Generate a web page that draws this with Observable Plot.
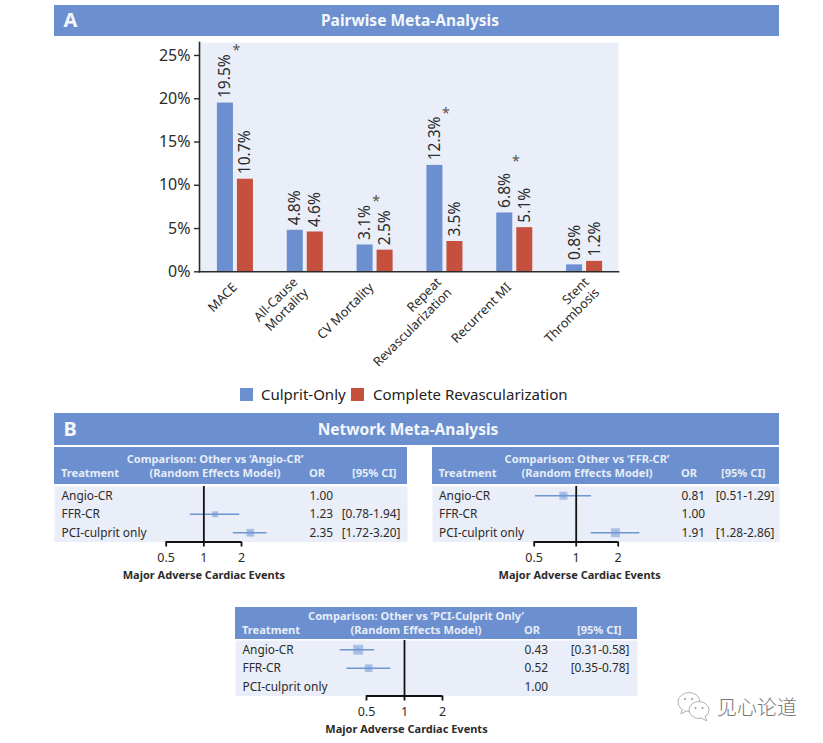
<!DOCTYPE html>
<html>
<head>
<meta charset="utf-8">
<script src="https://cdn.jsdelivr.net/npm/d3@7"></script>
<script src="https://cdn.jsdelivr.net/npm/@observablehq/plot@0.6"></script>
<style>
html,body{margin:0;padding:0;background:#fff;}
#page{position:relative;width:823px;height:743px;overflow:hidden;font-family:"Noto Sans",sans-serif;}
</style>
</head>
<body>
<div id="page"></div>
<script>
// ---- Panel A data
const categories = ["MACE","All-Cause\nMortality","CV Mortality","Repeat\nRevascularization","Recurrent MI","Stent\nThrombosis"];
const culpritOnly = [19.5,4.8,3.1,12.3,6.8,0.8];
const completeRevasc = [10.7,4.6,2.5,3.5,5.1,1.2];
const seriesNames = ["Culprit-Only","Complete Revascularization"];
const significant = ["MACE","CV Mortality","Repeat\nRevascularization","Recurrent MI"];
const starLevels = [25.6,8.1,18.3,12.7];
const yTicks = [0,5,10,15,20,25];

// ---- Panel B data
const treatments = ["Angio-CR","FFR-CR","PCI-culprit only"];
const xTicks = [0.5,1,2];
const vsAngioOR = [1.00,1.23,2.35];
const vsAngioLo = [null,0.78,1.72];
const vsAngioHi = [null,1.94,3.20];
const vsAngioWeight = [null,18,30];
const vsFfrOR = [0.81,1.00,1.91];
const vsFfrLo = [0.51,null,1.28];
const vsFfrHi = [1.29,null,2.86];
const vsFfrWeight = [32,null,40];
const vsPciOR = [0.43,0.52,1.00];
const vsPciLo = [0.31,0.35,null];
const vsPciHi = [0.58,0.78,null];
const vsPciWeight = [49,30,null];

const BLUE="#6b8fcf", RED="#c5503d", PANEL="#e9eef8", INK="#2b2b2b";
const page=document.getElementById("page");
const FONT='"Noto Sans",sans-serif';

function add(el,css,html){const d=document.createElement(el);d.style.cssText=css;if(html!=null)d.innerHTML=html;page.appendChild(d);return d;}

// ---- Panel A chart
const barRows=categories.flatMap((c,i)=>[
  {category:c,series:seriesNames[0],value:culpritOnly[i]},
  {category:c,series:seriesNames[1],value:completeRevasc[i]}]);
const starRows=significant.map((c,i)=>({category:c,level:starLevels[i]}));
const labelNudge=[0,-4,-3,0,-5,8];
const categoryAxes=categories.map((c,i)=>Plot.axisFx({ticks:[c],anchor:"bottom",tickRotate:-45,tickSize:0,tickPadding:13,dx:labelNudge[i],fontSize:12.8,fill:INK,label:null,lineHeight:1.15}));

const chartA=Plot.plot({
  width:823,height:390,marginLeft:199,marginRight:205,marginTop:42,marginBottom:118.7,
  style:{fontFamily:FONT,background:"transparent",overflow:"visible"},
  fx:{domain:categories,padding:0,round:false,label:null,axis:null},
  x:{domain:seriesNames,paddingInner:0.2,paddingOuter:0.845,align:0.53,round:false,axis:null,label:null},
  y:{domain:[0,26.5],label:null},
  color:{domain:seriesNames,range:[BLUE,RED]},
  marks:[
    Plot.frame({fill:PANEL,stroke:null,facet:"super"}),
    Plot.barY(barRows,{fx:"category",x:"series",y:"value",fill:"series"}),
    Plot.text(barRows,{fx:"category",x:"series",y:"value",text:d=>d.value.toFixed(1)+"%",rotate:-90,textAnchor:"start",dy:-5,fontSize:15.6,fill:INK}),
    Plot.text(starRows,{fx:"category",y:"level",dx:2,text:()=>"*",fontSize:14,fill:"#555"}),
    Plot.frame({anchor:"left",stroke:INK,strokeWidth:1.6,facet:"super"}),
    Plot.frame({anchor:"bottom",stroke:INK,strokeWidth:1.6,facet:"super"}),
    Plot.axisY({ticks:yTicks,tickFormat:d=>d+"%",tickSize:5,tickPadding:4,fontSize:16,stroke:INK,fill:INK,strokeWidth:1.4,label:null}),
    ...categoryAxes
  ]});
chartA.style.cssText+=";position:absolute;left:0;top:0;";
page.appendChild(chartA);

// ---- Banners
add("div","position:absolute;left:54px;top:5px;width:725px;height:31px;background:"+BLUE);
add("div","position:absolute;left:54px;top:413px;width:725px;height:32px;background:"+BLUE);
const bannerText="position:absolute;white-space:nowrap;color:#f4f7fc;font-weight:700;";
add("div",bannerText+"left:63.5px;top:8px;font-size:20px;line-height:24px;","A");
add("div",bannerText+"left:54px;width:712px;text-align:center;top:8px;font-size:15.5px;line-height:24px;","Pairwise Meta-Analysis");
add("div",bannerText+"left:63.5px;top:416.5px;font-size:20px;line-height:24px;","B");
add("div",bannerText+"left:54px;width:708px;text-align:center;top:416.5px;font-size:15.5px;line-height:24px;","Network Meta-Analysis");

// ---- Legend
add("div","position:absolute;left:240px;top:388px;width:13px;height:13px;background:"+BLUE);
add("div","position:absolute;left:351px;top:388px;width:13px;height:13px;background:"+RED);
const legendText="position:absolute;white-space:nowrap;color:#222;font-size:15px;line-height:20px;top:383.5px;";
add("div",legendText+"left:261px;",seriesNames[0]);
add("div",legendText+"left:373px;",seriesNames[1]);

// ---- Forest tables
function forest(t){
  const W=t.right-t.left, rowH=18.5, bodyH=rowH*3, below=44;
  const hdr=add("div",`position:absolute;left:${t.left}px;top:${t.top}px;width:${W}px;height:${t.bodyTop-t.top-1.5}px;background:${BLUE};`);
  const span=(txt,css)=>{const s=document.createElement("span");s.style.cssText="position:absolute;white-space:nowrap;color:#e6edf8;font-weight:700;font-size:11.1px;line-height:13px;"+css;s.textContent=txt;hdr.appendChild(s);};
  span(t.title,`left:${t.titleX-t.left-150}px;width:300px;text-align:center;top:${t.line1}px;`);
  span("(Random Effects Model)",`left:${t.titleX-t.left-150}px;width:300px;text-align:center;top:${t.line2}px;`);
  span("Treatment",`left:${t.pad}px;top:${t.line2}px;`);
  span("OR",`left:${t.orX-t.left}px;top:${t.line2}px;`);
  span("[95% CI]",`left:${t.ciX-t.left}px;top:${t.line2}px;`);

  const rows=treatments.map((name,i)=>({name,or:t.or[i],lo:t.lo[i],hi:t.hi[i],w:t.w[i]}));
  const est=rows.filter(d=>d.lo!=null);
  const fs=11.9;
  const p=Plot.plot({
    width:W,height:bodyH+below,marginLeft:0,marginRight:0,marginTop:0,marginBottom:below,
    style:{fontFamily:FONT,background:"transparent",overflow:"visible"},
    x:{type:"log",domain:[0.5,2],range:[t.x05-t.left,t.x2-t.left],axis:null,label:null},
    y:{type:"band",domain:treatments,padding:0,round:false,axis:null,label:null},
    r:{domain:[0,100],range:[0,8]},
    marks:[
      Plot.frame({fill:PANEL,stroke:null}),
      Plot.dot(est,{x:"or",y:"name",r:"w",symbol:"square",fill:"#a9c0e6",stroke:null}),
      Plot.ruleY(est,{y:"name",x1:"lo",x2:"hi",stroke:"#6f95d2",strokeWidth:1.5}),
      Plot.dot(est,{x:"or",y:"name",r:1.5,symbol:"square",fill:"#7f9fd6",stroke:null}),
      Plot.ruleX([1],{stroke:"#111",strokeWidth:1.8}),
      Plot.ruleY([treatments[2]],{x1:()=>xTicks[0],x2:()=>xTicks[2],dy:rowH/2,stroke:"#111",strokeWidth:1.8}),
      Plot.axisX({ticks:xTicks,tickFormat:d=>String(d),tickSize:5,tickPadding:6,fontSize:12.5,stroke:"#111",strokeWidth:1.8,fill:INK,label:null}),
      Plot.text(["Major Adverse Cardiac Events"],{x:()=>1,frameAnchor:"bottom",dx:t.capDx,dy:37,text:d=>d,fontSize:11,fontWeight:700,fill:INK}),
      Plot.text(rows,{y:"name",text:"name",frameAnchor:"left",dx:t.pad,textAnchor:"start",fontSize:fs,fill:INK}),
      Plot.text(rows,{y:"name",text:d=>d.or.toFixed(2),frameAnchor:"left",dx:t.orX-t.left,textAnchor:"start",fontSize:fs,fill:INK}),
      Plot.text(est,{y:"name",text:d=>`[${d.lo.toFixed(2)}-${d.hi.toFixed(2)}]`,frameAnchor:"right",dx:-t.ciPad,textAnchor:"end",fontSize:fs,fill:INK})
    ]});
  p.style.cssText+=`;position:absolute;left:${t.left}px;top:${t.bodyTop}px;`;
  page.appendChild(p);
}
forest({left:54,right:407,top:447,bodyTop:485.5,pad:7,line1:4.5,line2:19,title:"Comparison: Other vs ‘Angio-CR’",titleX:215,orX:309,ciX:352,ciPad:7,capDx:0,x05:165.7,x2:241,or:vsAngioOR,lo:vsAngioLo,hi:vsAngioHi,w:vsAngioWeight});
forest({left:432,right:779,top:447,bodyTop:485.5,pad:6.5,line1:4.5,line2:19,title:"Comparison: Other vs ‘FFR-CR’",titleX:587,orX:681,ciX:721,ciPad:5,capDx:3.5,x05:533.7,x2:617.7,or:vsFfrOR,lo:vsFfrLo,hi:vsFfrHi,w:vsFfrWeight});
forest({left:235,right:637,top:607,bodyTop:640,pad:7,line1:1.5,line2:16,title:"Comparison: Other vs ‘PCI-Culprit Only’",titleX:416,orX:524,ciX:577,ciPad:8,capDx:2,x05:366,x2:442,or:vsPciOR,lo:vsPciLo,hi:vsPciHi,w:vsPciWeight});

// ---- Watermark
add("div","position:absolute;left:676px;top:690px;width:36px;height:34px;",
 `<svg width="36" height="34" viewBox="0 0 36 34" fill="#fff" stroke="#aaa" stroke-width="0.9">
  <ellipse cx="13" cy="12" rx="11" ry="9.5"/><path d="M6 19 l-1 5 l5 -3"/>
  <ellipse cx="23" cy="20" rx="10" ry="8.5"/><path d="M29 26 l2 5 l-6 -3"/>
  <circle cx="9" cy="9" r="1" fill="#999" stroke="none"/><circle cx="16" cy="9" r="1" fill="#999" stroke="none"/>
  <circle cx="19.5" cy="18" r="1" fill="#999" stroke="none"/><circle cx="26.5" cy="18" r="1" fill="#999" stroke="none"/></svg>`);
add("div",'position:absolute;white-space:nowrap;left:717px;top:695px;font-family:"Noto Sans CJK SC";font-size:20px;line-height:24px;font-weight:300;color:#777;',"见心论道");
</script>
</body>
</html>
